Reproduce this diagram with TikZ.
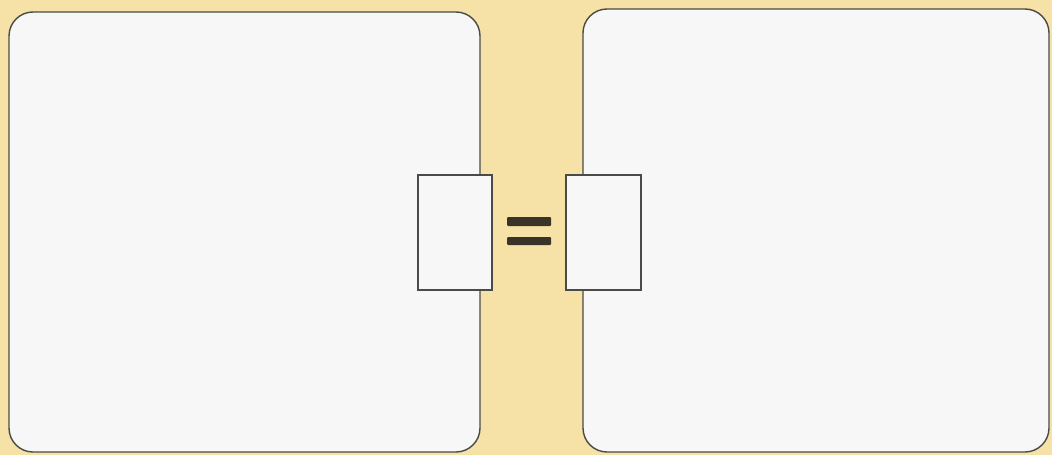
\documentclass[tikz,border=0pt]{standalone}
\definecolor{bg}{HTML}{F6E2A6}
\definecolor{boxfill}{HTML}{F7F7F7}
\definecolor{edge}{HTML}{4A4A48}
\definecolor{bar}{HTML}{3A3428}
\tikzset{
  bigbox/.style={draw=edge, line width=1.4pt, fill=boxfill, rounded corners=24pt},
  smallbox/.style={draw=edge, line width=1.2pt, fill=boxfill},
  eqbar/.style={fill=bar, draw=none, rounded corners=1pt}
}
\begin{document}
\begin{tikzpicture}[x=1pt,y=-1pt]
\fill[bg] (0,0) rectangle (1052,455);
\useasboundingbox (0,0) rectangle (1052,455);
\draw[bigbox] (9,12) rectangle (480,452);
\draw[bigbox] (583,9) rectangle (1049,452);
\draw[smallbox] (418,175) rectangle (492,290);
\draw[smallbox] (566,175) rectangle (641,290);
\fill[eqbar] (507,217) rectangle (551,226);
\fill[eqbar] (507,237) rectangle (551,245);
\end{tikzpicture}
\end{document}
